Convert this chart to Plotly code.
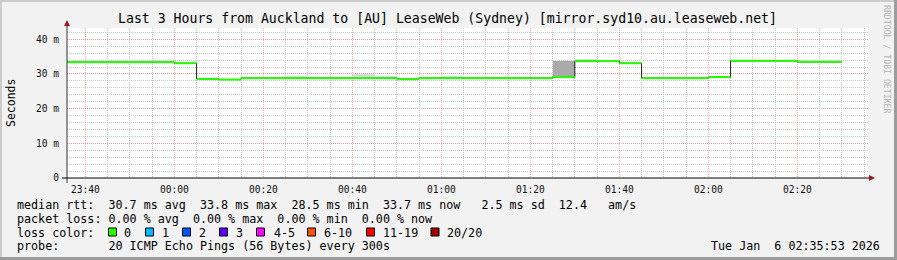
import pandas as pd
import plotly.graph_objects as go

# ---------------- data ----------------
title_text = "Last 3 Hours from Auckland to [AU] LeaseWeb (Sydney) [mirror.syd10.au.leaseweb.net]"
range_start = "2026-01-05 23:35:53"
range_end = "2026-01-06 02:35:53"
first_interval = "2026-01-05 23:35:00"
step_minutes = 5

# median RTT per 5-minute interval (ms)
median_ms = [33.4, 33.4, 33.4, 33.4, 33.4, 33.1, 28.6, 28.4, 28.8, 28.8,
             28.8, 28.8, 28.8, 28.8, 28.8, 28.5, 28.8, 28.8, 28.8, 28.8,
             28.8, 28.8, 29.1, 33.7, 33.7, 33.1, 28.8, 28.8, 28.8, 29.1,
             33.8, 33.8, 33.8, 33.5, 33.5]
# smoke (spread of the 20 pings) per interval (ms)
smoke_min_ms = [33.3, 33.3, 33.3, 33.3, 33.3, 33.0, 28.5, 28.3, 28.7, 28.7,
                28.7, 28.7, 28.7, 28.7, 28.7, 28.4, 28.7, 28.7, 28.7, 28.7,
                28.7, 28.7, 28.8, 33.6, 33.6, 33.0, 28.7, 28.7, 28.7, 29.0,
                33.7, 33.7, 33.7, 33.4, 33.4]
smoke_max_ms = [33.5, 33.5, 33.5, 33.5, 33.5, 33.2, 28.7, 28.5, 28.9, 28.9,
                29.4, 28.9, 28.9, 30.0, 29.4, 28.9, 28.9, 29.4, 28.9, 28.9,
                28.9, 28.9, 33.6, 34.3, 33.8, 33.2, 28.9, 28.9, 28.9, 29.2,
                33.9, 33.9, 33.9, 33.6, 33.6]

y_tick_vals = [0, 10, 20, 30, 40]
y_tick_text = ["0", "10 m", "20 m", "30 m", "40 m"]

legend_line1 = "median rtt:  30.7 ms avg  33.8 ms max  28.5 ms min  33.7 ms now   2.5 ms sd  12.4   am/s"
legend_line2 = "packet loss: 0.00 % avg  0.00 % max  0.00 % min  0.00 % now"
legend_line3 = "loss color:"
legend_line4 = "probe:       20 ICMP Echo Pings (56 Bytes) every 300s"
timestamp_text = "Tue Jan  6 02:35:53 2026"
loss_labels = ["0", "1", "2", "3", "4-5", "6-10", "11-19", "20/20"]
loss_colors = ["#26ff00", "#00b8ff", "#0059ff", "#5e00ff", "#ff00ff", "#ff5500", "#ff0000", "#a00000"]

# ---------------- geometry helpers ----------------
W, H = 897, 260
L, R, T, B = 67, 868, 28, 178


def fx(px):
    return (px - L) / (R - L)


def fy(py):
    return (B - py) / (B - T)


MONO = "DejaVu Sans Mono"

starts = pd.date_range(first_interval, periods=len(median_ms), freq=f"{step_minutes}min")
ends = starts + pd.Timedelta(minutes=step_minutes)
centers = starts + pd.Timedelta(minutes=step_minutes / 2)

fig = go.Figure()

# smoke
smoke_colors = ["#aaaaaa" if (hi - lo) > 2 else "#dadada" for lo, hi in zip(smoke_min_ms, smoke_max_ms)]
fig.add_trace(go.Bar(
    x=centers, base=smoke_min_ms,
    y=[hi - lo for lo, hi in zip(smoke_min_ms, smoke_max_ms)],
    width=step_minutes * 60 * 1000,
    marker=dict(color=smoke_colors, line=dict(width=0)),
    hoverinfo="skip", showlegend=False))

# dark connecting step line
fig.add_trace(go.Scatter(
    x=list(starts) + [ends[-1]], y=median_ms + [median_ms[-1]],
    mode="lines", line=dict(color="#202020", width=1, shape="hv"),
    hoverinfo="skip", showlegend=False))

# green (0 loss) horizontal segments
gx, gy = [], []
for s, e, v in zip(starts, ends, median_ms):
    gx += [s, e, None]
    gy += [v, v, None]
fig.add_trace(go.Scatter(
    x=gx, y=gy, mode="lines", line=dict(color=loss_colors[0], width=2),
    hoverinfo="skip", showlegend=False))

fig.update_layout(
    width=W, height=H,
    margin=dict(l=L, r=W - R, t=T, b=H - B, pad=0),
    paper_bgcolor="#f2f2f2", plot_bgcolor="#ffffff",
    showlegend=False, bargap=0,
    font=dict(family=MONO, size=10, color="#000000"),
)

fig.update_xaxes(
    range=[range_start, range_end], type="date",
    tick0="2026-01-05 23:40:00", dtick=20 * 60 * 1000, tickformat="%H:%M",
    showgrid=True, gridcolor="rgba(240,120,120,0.55)", griddash="1px,1px", gridwidth=1,
    minor=dict(dtick=5 * 60 * 1000, showgrid=True, gridcolor="#c8c8c8", griddash="1px,1px"),
    showline=False, zeroline=False, ticks="", ticklabelstandoff=4,
    tickfont=dict(family=MONO, size=9.6, color="#111111"),
)
fig.update_yaxes(
    range=[0, (B - T) / 3.4675],
    tickvals=y_tick_vals, ticktext=y_tick_text,
    showgrid=True, gridcolor="rgba(240,120,120,0.55)", griddash="1px,1px", gridwidth=1,
    minor=dict(dtick=2, showgrid=True, gridcolor="#c8c8c8", griddash="1px,1px"),
    showline=False, zeroline=False, ticks="", ticklabelstandoff=7,
    tickfont=dict(family=MONO, size=9.6, color="#111111"),
)

shapes = []
# axes lines with small extensions
shapes.append(dict(type="line", xref="paper", yref="paper", x0=fx(67), x1=fx(67), y0=fy(183), y1=fy(25),
                   line=dict(color="#333333", width=1)))
shapes.append(dict(type="line", xref="paper", yref="paper", x0=fx(62), x1=fx(870), y0=fy(178), y1=fy(178),
                   line=dict(color="#000000", width=1)))
# arrows
shapes.append(dict(type="path", xref="paper", yref="paper",
                   path=f"M {fx(64)} {fy(26)} L {fx(70)} {fy(26)} L {fx(67)} {fy(20)} Z",
                   fillcolor="#9b1c1c", line=dict(width=0)))
shapes.append(dict(type="path", xref="paper", yref="paper",
                   path=f"M {fx(869)} {fy(175)} L {fx(869)} {fy(181)} L {fx(875)} {fy(178)} Z",
                   fillcolor="#9b1c1c", line=dict(width=0)))
# 3D frame of the canvas
shapes.append(dict(type="rect", xref="paper", yref="paper", x0=fx(0), x1=fx(W), y0=fy(0), y1=fy(2),
                   fillcolor="#cbcbcb", line=dict(width=0), layer="above"))
shapes.append(dict(type="rect", xref="paper", yref="paper", x0=fx(0), x1=fx(2), y0=fy(0), y1=fy(H),
                   fillcolor="#cbcbcb", line=dict(width=0), layer="above"))
shapes.append(dict(type="rect", xref="paper", yref="paper", x0=fx(0), x1=fx(W), y0=fy(H - 3), y1=fy(H),
                   fillcolor="#9c9c9c", line=dict(width=0), layer="above"))
shapes.append(dict(type="rect", xref="paper", yref="paper", x0=fx(W - 3), x1=fx(W), y0=fy(0), y1=fy(H),
                   fillcolor="#9c9c9c", line=dict(width=0), layer="above"))

annotations = []


def add_text(text, px, py, size, anchor="left", color="#000000", angle=0):
    annotations.append(dict(
        text=text.replace(" ", "\u00a0"), x=fx(px), y=fy(py), xref="paper", yref="paper",
        xanchor=anchor, yanchor="middle", showarrow=False, textangle=angle,
        font=dict(family=MONO, size=size, color=color), borderpad=0))


add_text(title_text, 447, 19, 13.2, anchor="center")
add_text("Seconds", 11, 103, 11.5, anchor="center", angle=-90)
add_text("RRDTOOL / TOBI OETIKER", 887, 59, 8.2, anchor="center", color="#b4b4b4", angle=90)

add_text(legend_line1, 16, 204.5, 11.7)
add_text(legend_line2, 16, 218.5, 11.7)
add_text(legend_line3, 16, 232.5, 11.7)
add_text(legend_line4, 16, 246.5, 11.7)
add_text(timestamp_text, 881, 246.5, 11.7, anchor="right")

square_x = [108.5, 145.5, 182.5, 219.5, 256.5, 307.5, 366.5, 431]
label_x = [123, 160.5, 198, 235, 272.5, 322.5, 382, 446]
for sx, lx, lab, col in zip(square_x, label_x, loss_labels, loss_colors):
    shapes.append(dict(type="rect", xref="paper", yref="paper",
                       x0=fx(sx), x1=fx(sx + 8), y0=fy(236), y1=fy(228),
                       fillcolor=col, line=dict(color="#000000", width=1)))
    add_text(lab, lx, 232.5, 11.7)

fig.update_layout(shapes=shapes, annotations=annotations)

fig.write_html("out.html")
